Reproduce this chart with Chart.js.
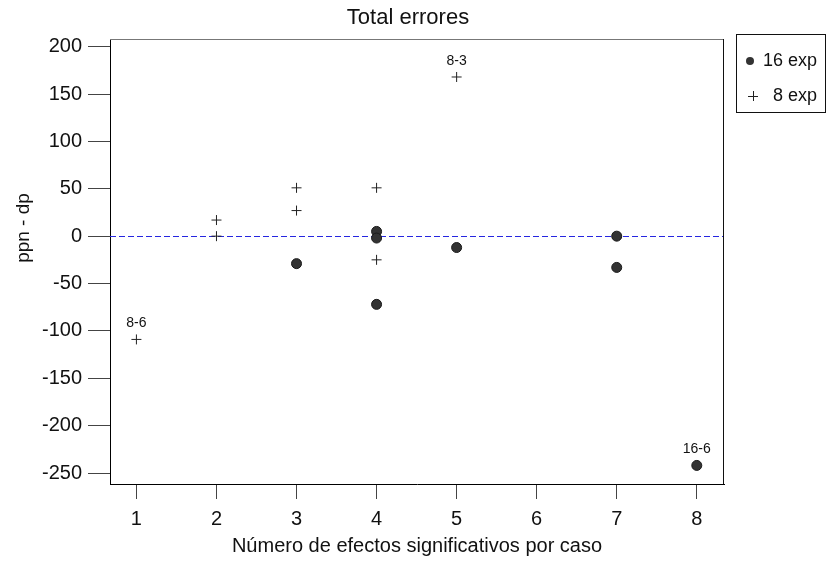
<!DOCTYPE html>
<html>
<head>
<meta charset="utf-8">
<script src="https://cdn.jsdelivr.net/npm/chart.js@4.4.0/dist/chart.umd.min.js"></script>
<style>
  html, body { margin: 0; padding: 0; background: #fff; }
</style>
</head>
<body>
<canvas id="grafico" width="826" height="574"></canvas>
<script>
// Casos con 16 experimentos: número de efectos significativos y ppn - dp
const casos16X = [3, 4, 4, 4, 5, 7, 7, 8];
const casos16Y = [-29, 5, -2, -72, -12, 0, -33, -242];
const etiquetas16 = ['', '', '', '', '', '', '', '16-6'];

// Casos con 8 experimentos
const casos8X = [1, 2, 2, 3, 3, 4, 4, 5];
const casos8Y = [-109, 17, 0, 51, 27, 51, -25, 168];
const etiquetas8 = ['8-6', '', '', '', '', '', '', '8-3'];

const series = ['16 exp', '8 exp'];
const ticksX = [1, 2, 3, 4, 5, 6, 7, 8];
const ticksY = [-250, -200, -150, -100, -50, 0, 50, 100, 150, 200];
const lineaCero = 0;

const fuente = "'Liberation Sans', Arial, sans-serif";
Chart.defaults.font.family = fuente;
Chart.defaults.color = '#111';

function puntos(xs, ys) {
  return xs.map((x, i) => ({ x: x, y: ys[i] }));
}

// Línea discontinua azul en y = 0, debajo de los puntos
const lineaReferencia = {
  id: 'lineaReferencia',
  beforeDatasetsDraw(chart) {
    const { ctx, chartArea } = chart;
    const y = Math.round(chart.scales.y.getPixelForValue(lineaCero)) + 0.5;
    ctx.save();
    ctx.strokeStyle = '#2626e0';
    ctx.lineWidth = 1;
    ctx.setLineDash([6, 3]);
    ctx.beginPath();
    ctx.moveTo(chartArea.left, y);
    ctx.lineTo(chartArea.right, y);
    ctx.stroke();
    ctx.restore();
  }
};

// Bordes superior y derecho del recuadro
const recuadro = {
  id: 'recuadro',
  afterDraw(chart) {
    const { ctx, chartArea } = chart;
    ctx.save();
    ctx.lineWidth = 1;
    ctx.strokeStyle = '#777';
    ctx.beginPath();
    ctx.moveTo(chartArea.left, chartArea.top + 0.5);
    ctx.lineTo(chartArea.right, chartArea.top + 0.5);
    ctx.stroke();
    ctx.strokeStyle = '#111';
    ctx.beginPath();
    ctx.moveTo(chartArea.right - 0.5, chartArea.top);
    ctx.lineTo(chartArea.right - 0.5, chartArea.bottom);
    ctx.stroke();
    ctx.restore();
  }
};

// Etiquetas de texto sobre algunos puntos
const etiquetasPuntos = {
  id: 'etiquetasPuntos',
  afterDatasetsDraw(chart) {
    const { ctx } = chart;
    ctx.save();
    ctx.font = '14px ' + fuente;
    ctx.fillStyle = '#111';
    ctx.textAlign = 'center';
    ctx.textBaseline = 'alphabetic';
    chart.data.datasets.forEach((ds, i) => {
      const meta = chart.getDatasetMeta(i);
      ds.etiquetas.forEach((txt, j) => {
        if (!txt) return;
        const p = meta.data[j];
        ctx.fillText(txt, p.x, p.y - 12);
      });
    });
    ctx.restore();
  }
};

// Título principal y título del eje y
const titulos = {
  id: 'titulos',
  afterDraw(chart) {
    const { ctx } = chart;
    ctx.save();
    ctx.fillStyle = '#111';
    ctx.textAlign = 'center';
    ctx.textBaseline = 'middle';
    ctx.font = '22px ' + fuente;
    ctx.fillText('Total errores', 408, 18);

    ctx.translate(24, 228);
    ctx.rotate(-Math.PI / 2);
    ctx.font = '19px ' + fuente;
    ctx.fillText('ppn - dp', 0, 0);
    ctx.restore();
  }
};

// Leyenda en recuadro a la derecha del gráfico
const leyenda = {
  id: 'leyenda',
  afterDraw(chart) {
    const { ctx, chartArea } = chart;
    const x0 = chartArea.right + 12;
    const y0 = chartArea.top - 5;
    ctx.save();
    ctx.strokeStyle = '#111';
    ctx.lineWidth = 1;
    ctx.strokeRect(x0 + 0.5, y0 + 0.5, 89, 78);

    ctx.fillStyle = '#333';
    ctx.beginPath();
    ctx.arc(x0 + 14, y0 + 27, 4, 0, Math.PI * 2);
    ctx.fill();

    ctx.strokeStyle = '#222';
    ctx.beginPath();
    ctx.moveTo(x0 + 12, y0 + 62.5);
    ctx.lineTo(x0 + 22, y0 + 62.5);
    ctx.moveTo(x0 + 17.5, y0 + 57);
    ctx.lineTo(x0 + 17.5, y0 + 67);
    ctx.stroke();

    ctx.font = '18px ' + fuente;
    ctx.fillStyle = '#111';
    ctx.textAlign = 'right';
    ctx.textBaseline = 'middle';
    ctx.fillText(series[0], x0 + 81, y0 + 27);
    ctx.fillText(series[1], x0 + 81, y0 + 62);
    ctx.restore();
  }
};

new Chart(document.getElementById('grafico'), {
  type: 'scatter',
  data: {
    datasets: [
      {
        label: series[0],
        data: puntos(casos16X, casos16Y),
        etiquetas: etiquetas16,
        pointStyle: 'circle',
        pointRadius: 5,
        backgroundColor: '#333',
        borderColor: '#1a1a1a',
        borderWidth: 1
      },
      {
        label: series[1],
        data: puntos(casos8X, casos8Y),
        etiquetas: etiquetas8,
        pointStyle: 'cross',
        pointRadius: 5,
        borderColor: '#222',
        borderWidth: 1
      }
    ]
  },
  options: {
    responsive: false,
    animation: false,
    devicePixelRatio: 1,
    layout: { padding: { left: 0, right: 102, top: 39, bottom: 0 } },
    plugins: {
      legend: { display: false },
      tooltip: { enabled: false },
      title: { display: false }
    },
    scales: {
      x: {
        type: 'linear',
        min: 0.67,
        max: 8.34,
        afterBuildTicks: s => { s.ticks = ticksX.map(v => ({ value: v })); },
        afterFit: s => { s.height = 90; },
        grid: { drawOnChartArea: false, drawTicks: true, tickLength: 15, color: '#444' },
        border: { display: true, color: '#000', width: 1 },
        ticks: { font: { size: 20 }, color: '#111', padding: 8, maxRotation: 0, autoSkip: false },
        title: {
          display: true,
          text: 'Número de efectos significativos por caso',
          font: { size: 20 },
          color: '#111',
          padding: { top: 0, bottom: 16 }
        }
      },
      y: {
        type: 'linear',
        min: -261.6,
        max: 208.1,
        afterBuildTicks: s => { s.ticks = ticksY.map(v => ({ value: v })); },
        afterFit: s => { s.width = 110; },
        grid: { drawOnChartArea: false, drawTicks: true, tickLength: 22, color: '#444' },
        border: { display: true, color: '#000', width: 1 },
        ticks: { font: { size: 20 }, color: '#111', padding: 6, autoSkip: false }
      }
    }
  },
  plugins: [lineaReferencia, recuadro, etiquetasPuntos, titulos, leyenda]
});
</script>
</body>
</html>
